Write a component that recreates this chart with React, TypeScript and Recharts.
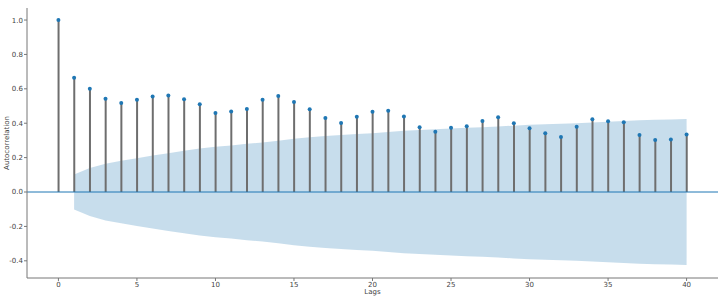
import {
  ComposedChart, Bar, Line, Area, XAxis, YAxis, ReferenceLine,
} from 'recharts';

// autocorrelation at lags 0..40
const acfValues = [
  1.0, 0.664, 0.6, 0.543, 0.518, 0.537, 0.555, 0.561, 0.539, 0.51,
  0.46, 0.468, 0.483, 0.537, 0.559, 0.524, 0.481, 0.431, 0.402, 0.437,
  0.466, 0.472, 0.439, 0.376, 0.351, 0.373, 0.382, 0.413, 0.435, 0.4,
  0.371, 0.341, 0.32, 0.379, 0.423, 0.411, 0.405, 0.332, 0.303, 0.306,
  0.335,
];

// half-width of the confidence band, lags 1..40
const confWidth = [
  0.102, 0.14, 0.165, 0.182, 0.197, 0.212, 0.226, 0.24, 0.253, 0.263,
  0.271, 0.28, 0.288, 0.298, 0.309, 0.318, 0.326, 0.332, 0.337, 0.342,
  0.349, 0.356, 0.361, 0.365, 0.369, 0.373, 0.377, 0.381, 0.386, 0.391,
  0.394, 0.397, 0.4, 0.404, 0.408, 0.413, 0.417, 0.42, 0.422, 0.424,
];

const xTicks = [0, 5, 10, 15, 20, 25, 30, 35, 40];
const yTicks = [-0.4, -0.2, 0.0, 0.2, 0.4, 0.6, 0.8, 1.0];

const data = acfValues.map((v, lag) => ({
  lag,
  acf: v,
  band: lag === 0 ? null : [-confWidth[lag - 1], confWidth[lag - 1]],
}));

const tickStyle = { fill: '#444', fontSize: 7, fontFamily: 'DejaVu Sans' };

export default function App() {
  return (
    <div style={{ position: 'absolute', left: 0, top: 0, background: '#fff' }}>
      <ComposedChart
        width={720}
        height={308}
        data={data}
        margin={{ top: 8, right: 2, left: 0, bottom: 0 }}
      >
        <XAxis
          dataKey="lag"
          type="number"
          domain={[-2, 42]}
          ticks={xTicks}
          tick={tickStyle}
          tickSize={3}
          tickMargin={1}
          stroke="#777"
          height={30}
          label={{ value: 'Lags', position: 'insideBottom', offset: 14, fill: '#444', fontSize: 7, fontFamily: 'DejaVu Sans' }}
        />
        <YAxis
          type="number"
          domain={[-0.5, 1.07]}
          ticks={yTicks}
          tick={tickStyle}
          tickFormatter={v => v.toFixed(1)}
          tickSize={3}
          tickMargin={1}
          stroke="#777"
          width={27}
          label={{ value: 'Autocorrelation', angle: -90, position: 'insideLeft', offset: 7, fill: '#444', fontSize: 7, fontFamily: 'DejaVu Sans', style: { textAnchor: 'middle' } }}
        />
        <Bar dataKey="acf" barSize={2} fill="#6e6e6e" isAnimationActive={false} />
        <Line
          dataKey="acf"
          stroke="none"
          dot={{ r: 2, fill: '#1f77b4', stroke: 'none' }}
          activeDot={false}
          isAnimationActive={false}
        />
        <ReferenceLine y={0} stroke="#1f77b4" strokeWidth={1} />
        <Area
          dataKey="band"
          type="linear"
          stroke="none"
          fill="#1f77b4"
          fillOpacity={0.25}
          isAnimationActive={false}
        />
      </ComposedChart>
    </div>
  );
}
